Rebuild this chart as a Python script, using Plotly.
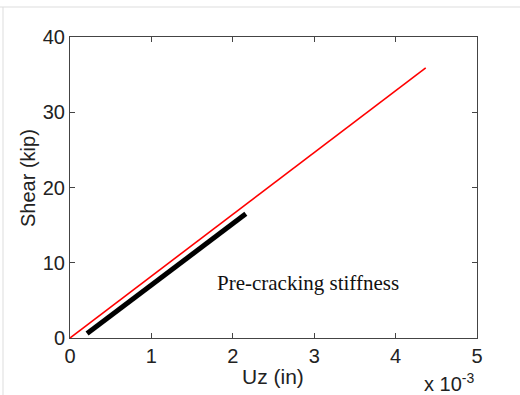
import plotly.graph_objects as go

# Data (x in inches, y in kip)
red_x = [0.0, 0.00437]
red_y = [0.0, 35.9]
black_x = [0.00021, 0.00216]
black_y = [0.6, 16.5]
x_tickvals = [0, 0.001, 0.002, 0.003, 0.004, 0.005]
x_ticktext = ["0", "1", "2", "3", "4", "5"]
y_tickvals = [0, 10, 20, 30, 40]

L, R, T, B = 70, 477, 37, 338
W, H = 520, 395

def px(xp):
    return (xp - L) / (R - L)

def py(yp):
    return (B - yp) / (B - T)

fig = go.Figure()
fig.add_trace(go.Scatter(x=red_x, y=red_y, mode="lines",
                         line=dict(color="#ff0000", width=1.6), showlegend=False))
fig.add_trace(go.Scatter(x=black_x, y=black_y, mode="lines",
                         line=dict(color="#000000", width=5), showlegend=False))

sans = "Liberation Sans, Arial, sans-serif"
axis_font = dict(family=sans, size=20, color="#222")
fig.update_layout(
    width=W, height=H,
    margin=dict(l=L, r=W - R, t=T, b=H - B),
    paper_bgcolor="white", plot_bgcolor="white",
    xaxis=dict(range=[0, 0.005], tickvals=x_tickvals, ticktext=x_ticktext,
               ticks="inside", ticklen=5, tickcolor="#444", showline=True,
               linecolor="#444", linewidth=1, mirror="ticks", showgrid=False,
               zeroline=False, tickfont=axis_font),
    yaxis=dict(range=[0, 40], tickvals=y_tickvals,
               ticks="inside", ticklen=5, tickcolor="#444", showline=True,
               linecolor="#444", linewidth=1, mirror="ticks", showgrid=False,
               zeroline=False, tickfont=axis_font),
    annotations=[
        dict(text="Uz (in)", xref="paper", yref="paper", x=px(272.5), y=py(376),
             xanchor="center", yanchor="middle",
             showarrow=False, font=dict(family=sans, size=21, color="#222")),
        dict(text="Shear (kip)", xref="paper", yref="paper", x=px(28), y=py(178),
             xanchor="center", yanchor="middle",
             showarrow=False, textangle=-90,
             font=dict(family=sans, size=20, color="#222")),
        dict(text="x 10<sup>-3</sup>", xref="paper", yref="paper", x=px(449), y=py(382),
             xanchor="center", yanchor="middle",
             showarrow=False, font=dict(family=sans, size=20, color="#222")),
        dict(text="Pre-cracking stiffness", xref="paper", yref="paper", x=px(308), y=py(283),
             xanchor="center", yanchor="middle",
             showarrow=False, font=dict(family="Liberation Serif, Times New Roman, serif", size=21, color="#111")),
    ],
    shapes=[
        dict(type="line", xref="paper", yref="paper", x0=px(0), x1=px(520), y0=py(7), y1=py(7),
             line=dict(color="#dddddd", width=1)),
        dict(type="line", xref="paper", yref="paper", x0=px(3), x1=px(3), y0=py(7), y1=py(395),
             line=dict(color="#dddddd", width=1)),
    ],
)

fig.write_html("out.html", config={"displayModeBar": False},
               post_script="document.body.style.margin='0';")
